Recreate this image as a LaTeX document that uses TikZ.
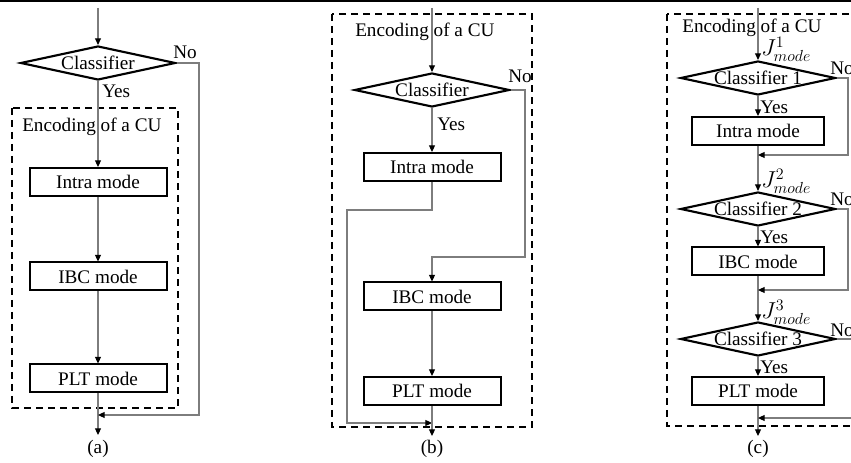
\documentclass[tikz,border=0pt]{standalone}
\usepackage{fontspec}
\setmainfont{Liberation Serif}
\usetikzlibrary{arrows.meta,shapes.geometric}
\definecolor{connc}{RGB}{125,125,125}
\begin{document}
\begin{tikzpicture}[x=0.75pt,y=-0.75pt,
  font=\fontsize{14.4}{17}\selectfont,
  modebox/.style={draw=black,line width=1.5pt,minimum width=102.75pt,minimum height=21pt,inner sep=0pt},
  modeboxc/.style={modebox,minimum width=99pt},
  dia/.style={diamond,draw=black,line width=1.6pt,minimum width=116.25pt,minimum height=25.5pt,inner sep=0pt},
  conn/.style={draw=connc,line width=0.8pt},
  arr/.style={conn,-{Triangle[length=5pt,width=4.5pt,color=black]}},
  cubox/.style={draw=black,line width=1.6pt,dash pattern=on 5.25pt off 3.75pt},
  lbl/.style={inner sep=0pt},
  jlbl/.style={lbl,anchor=west,font=\fontsize{17.28}{20}\selectfont}]
\useasboundingbox (0,0) rectangle (851,463);
\draw[line width=1.1pt] (0,1) -- (851,1);

% ---------------- (a)
\draw[cubox] (12,108) rectangle (178,408);
\coordinate (sa) at (98,8);
\node[dia] (ca) at (98,63) {};
\node[lbl] (cat) at (ca) {Classifier};
\node[modebox] (ia) at (98,182) {Intra mode};
\node[modebox] (ba) at (98,276.5) {IBC mode};
\node[modebox] (pa) at (98,378.5) {PLT mode};
\node[lbl,anchor=west] (ea) at (22,127) {Encoding of a CU};
\node[lbl,anchor=west] (ya) at (102,91) {Yes};
\node[lbl] (na) at (185,52) {No};
\coordinate (ka) at (199,415);
\coordinate (ra) at (98,415);
\coordinate (enda) at (98,435);
\draw[arr] (sa) -- (ca.north);
\draw[arr] (ca.south) -- (ia.north);
\draw[arr] (ia.south) -- (ba.north);
\draw[arr] (ba.south) -- (pa.north);
\draw[arr] (pa.south) -- (enda);
\draw[arr] (ca.east) -| (ka) -- (ra);
\node[lbl] (capa) at (98,449) {(a)};

% ---------------- (b)
\draw[cubox] (332,14) rectangle (532,427);
\coordinate (sb) at (432,8);
\node[lbl,anchor=west] (eb) at (355,32) {Encoding of a CU};
\node[dia] (cb) at (432,90) {};
\node[lbl] (cbt) at (cb) {Classifier};
\node[modebox] (ib) at (432,167) {Intra mode};
\node[modebox] (bb) at (432,296.5) {IBC mode};
\node[modebox] (pb) at (432,391) {PLT mode};
\node[lbl,anchor=west] (yb) at (437,124) {Yes};
\node[lbl] (nb) at (520,76) {No};
\coordinate (kb1) at (347,210);
\coordinate (rb) at (432,423);
\coordinate (kb2) at (525,257);
\coordinate (endb) at (432,436);
\draw[arr] (sb) -- (cb.north);
\draw[arr] (cb.south) -- (ib.north);
\draw[arr] (ib.south) |- (kb1) |- (rb);
\draw[arr] (cb.east) -| (kb2) -| (bb.north);
\draw[arr] (bb.south) -- (pb.north);
\draw[arr] (pb.south) -- (endb);
\node[lbl] (capb) at (432,449) {(b)};

% ---------------- (c)
\draw[cubox] (667,14) rectangle (880,426);
\coordinate (sc) at (758,8);
\node[lbl,anchor=west] (ec) at (682,28) {Encoding of a CU};
\node[jlbl] (j1) at (761,49) {$J^{1}_{mode}$};
\node[dia] (d1) at (758,78) {};
\node[lbl] (d1t) at (d1) {Classifier 1};
\node[modeboxc] (ic) at (758,131) {Intra mode};
\node[jlbl] (j2) at (761,181) {$J^{2}_{mode}$};
\node[dia] (d2) at (758,209) {};
\node[lbl] (d2t) at (d2) {Classifier 2};
\node[modeboxc] (bc) at (758,261.5) {IBC mode};
\node[jlbl] (j3) at (761,312) {$J^{3}_{mode}$};
\node[dia] (d3) at (758,339) {};
\node[lbl] (d3t) at (d3) {Classifier 3};
\node[modeboxc] (pc) at (758,391) {PLT mode};
\node[lbl,anchor=west] (yc1) at (760,107) {Yes};
\node[lbl,anchor=west] (yc2) at (760,237) {Yes};
\node[lbl,anchor=west] (yc3) at (760,367) {Yes};
\node[lbl,anchor=west] (nc1) at (830,68) {No};
\node[lbl,anchor=west] (nc2) at (830,199) {No};
\node[lbl,anchor=west] (nc3) at (830,330) {No};
\coordinate (kc1) at (848,155);
\coordinate (rc1) at (758,155);
\coordinate (kc2) at (848,290);
\coordinate (rc2) at (758,290);
\coordinate (kc3) at (862,418);
\coordinate (rc3) at (758,418);
\coordinate (endc) at (758,436);
\draw[arr] (sc) -- (d1.north);
\draw[arr] (d1.south) -- (ic.north);
\draw[arr] (ic.south) -- (d2.north);
\draw[arr] (d2.south) -- (bc.north);
\draw[arr] (bc.south) -- (d3.north);
\draw[arr] (d3.south) -- (pc.north);
\draw[arr] (pc.south) -- (endc);
\draw[arr] (d1.east) -| (kc1) -- (rc1);
\draw[arr] (d2.east) -| (kc2) -- (rc2);
\draw[arr] (d3.east) -| (kc3) -- (rc3);
\node[lbl] (capc) at (758,449) {(c)};
\end{tikzpicture}
\end{document}
